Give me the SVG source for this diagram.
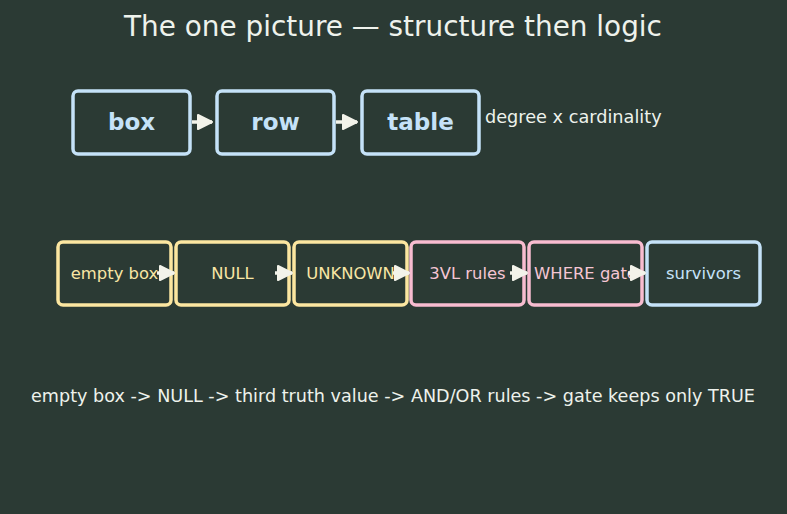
<svg xmlns="http://www.w3.org/2000/svg" width="787" height="514" viewBox="0 0 787 514">
  <defs>
    <style>
      text { font-family: "DejaVu Sans", "Liberation Sans", sans-serif; }
      .title { font-size: 27.9px; fill: #eef2ec; text-anchor: middle; }
      .note { font-size: 17.7px; fill: #eef2ec; }
      .cap { font-size: 17.6px; fill: #eef2ec; text-anchor: middle; }
      .big { fill: #2b3a34; stroke: #c5e2f8; stroke-width: 3.5; }
      .bigt { font-size: 23px; font-weight: bold; fill: #c5e2f8; text-anchor: middle; }
      .n { fill: #2b3a34; stroke-width: 3.5; }
      .y { stroke: #fce6a0; }
      .p { stroke: #f8bcd0; }
      .b { stroke: #c5e2f8; }
      .t { font-size: 16.4px; text-anchor: middle; }
      .ty { fill: #f8e6a4; }
      .tp { fill: #f5c6d4; }
      .tb { fill: #c5e2f8; }
      .conn { stroke: #f3f3ea; stroke-width: 3.5; fill: none; }
    </style>
    <marker id="ah" markerWidth="18" markerHeight="18" viewBox="-1 -1 18 18" refX="15" refY="8" markerUnits="userSpaceOnUse" orient="auto">
      <path d="M1,1 L15,8 L1,15 Z" fill="#f3f3ea" stroke="#f3f3ea" stroke-width="2" stroke-linejoin="round"/>
    </marker>
  </defs>
  <rect width="787" height="514" fill="#2b3a34"/>
  <text class="title" x="393" y="36">The one picture — structure then logic</text>

  <g id="node-box"><rect class="big" x="73" y="91" width="117" height="63" rx="5"/><text class="bigt" x="131.5" y="130">box</text></g>
  <g id="node-row"><rect class="big" x="217" y="91" width="117" height="63" rx="5"/><text class="bigt" x="275.5" y="130">row</text></g>
  <g id="node-table"><rect class="big" x="362" y="91" width="117" height="63" rx="5"/><text class="bigt" x="420.5" y="130">table</text></g>
  <text class="note" x="485" y="123">degree x cardinality</text>

  <g id="node-empty"><rect class="n y" x="58" y="242" width="113" height="63" rx="5"/><text class="t ty" x="114.5" y="279">empty box</text></g>
  <g id="node-null"><rect class="n y" x="176" y="242" width="113" height="63" rx="5"/><text class="t ty" x="232.5" y="279">NULL</text></g>
  <g id="node-unknown"><rect class="n y" x="294" y="242" width="113" height="63" rx="5"/><text class="t ty" x="350.5" y="279">UNKNOWN</text></g>
  <g id="node-3vl"><rect class="n p" x="411" y="242" width="113" height="63" rx="5"/><text class="t tp" x="467.5" y="279">3VL rules</text></g>
  <g id="node-where"><rect class="n p" x="529" y="242" width="113" height="63" rx="5"/><text class="t tp" x="585.5" y="279">WHERE gate</text></g>
  <g id="node-survivors"><rect class="n b" x="647" y="242" width="113" height="63" rx="5"/><text class="t tb" x="703.5" y="279">survivors</text></g>

  <g id="connectors">
    <line class="conn" x1="192" y1="122" x2="212" y2="122" marker-end="url(#ah)"/>
    <line class="conn" x1="336" y1="122" x2="357" y2="122" marker-end="url(#ah)"/>
    <line class="conn" x1="157" y1="273" x2="174" y2="273" marker-end="url(#ah)"/>
    <line class="conn" x1="275" y1="273" x2="292" y2="273" marker-end="url(#ah)"/>
    <line class="conn" x1="393" y1="273" x2="409" y2="273" marker-end="url(#ah)"/>
    <line class="conn" x1="510" y1="273" x2="527" y2="273" marker-end="url(#ah)"/>
    <line class="conn" x1="628" y1="273" x2="645" y2="273" marker-end="url(#ah)"/>
  </g>

  <text class="cap" x="393" y="402">empty box -&gt; NULL -&gt; third truth value -&gt; AND/OR rules -&gt; gate keeps only TRUE</text>
</svg>
